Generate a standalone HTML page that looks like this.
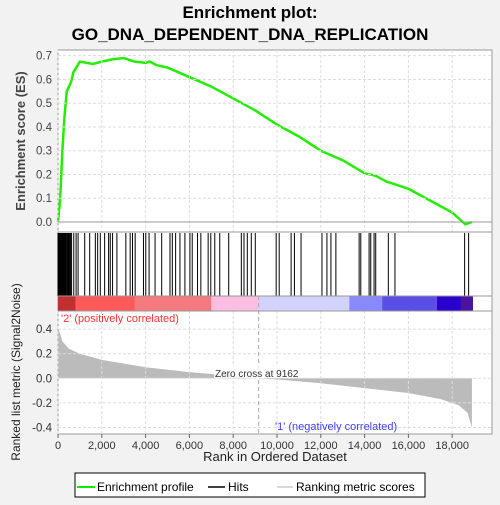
<!DOCTYPE html>
<html><head><meta charset="utf-8"><style>
body{margin:0;background:#f2f2f2;font-family:"Liberation Sans",sans-serif}
svg text{font-family:"Liberation Sans",sans-serif}
</style></head><body>
<svg id="c" width="500" height="500">
<rect x="0" y="0" width="500" height="500" fill="#f2f2f2"/>
<text x="250" y="18" text-anchor="middle" font-size="17" font-weight="bold">Enrichment plot:</text>
<text x="250" y="40" text-anchor="middle" font-size="17" font-weight="bold">GO_DNA_DEPENDENT_DNA_REPLICATION</text>
<rect x="58" y="50" width="434" height="384" fill="#fff" stroke="#999"/>
<g id="es"></g><g id="hits"></g><g id="cbar"></g><g id="metric"></g><g id="axes"></g>
<text transform="translate(25,141) rotate(-90)" text-anchor="middle" font-size="13" font-weight="bold" fill="#444">Enrichment score (ES)</text>
<text transform="translate(20,372) rotate(-90)" text-anchor="middle" font-size="12" fill="#222">Ranked list metric (Signal2Noise)</text>
<text x="275" y="461" text-anchor="middle" font-size="13" fill="#222">Rank in Ordered Dataset</text>
<text x="61" y="322" font-size="11" fill="#ff3030">'2' (positively correlated)</text>
<text x="275" y="430" font-size="11" fill="#4040ff">'1' (negatively correlated)</text>
<rect x="214" y="366" width="86" height="12" fill="#fff" opacity="0.8"/>
<text x="215" y="377" font-size="10" fill="#333">Zero cross at 9162</text>
<g>
<rect x="75" y="473" width="350" height="24" fill="#fff" stroke="#000"/>
<line x1="77" y1="487" x2="95" y2="487" stroke="#00ee00" stroke-width="2"/>
<text x="97" y="491" font-size="12">Enrichment profile</text>
<line x1="208" y1="487" x2="225" y2="487" stroke="#000" stroke-width="1.5"/>
<text x="228" y="491" font-size="12">Hits</text>
<line x1="277" y1="487" x2="293" y2="487" stroke="#ccc" stroke-width="1.5"/>
<text x="296" y="491" font-size="12">Ranking metric scores</text>
</g>
</svg>
<script>
const esRanks=[0,100,200,300,400,600,700,900,1000,1300,1600,2000,2500,3000,3500,4000,4200,4500,5000,5500,6000,7000,8000,9000,10000,11000,12000,13000,14000,14500,15000,16000,17000,18000,18600,18900];
const esValues=[0,0.1,0.3,0.45,0.55,0.59,0.63,0.66,0.675,0.67,0.665,0.675,0.685,0.69,0.675,0.67,0.675,0.66,0.65,0.63,0.61,0.57,0.52,0.47,0.41,0.36,0.3,0.26,0.205,0.195,0.17,0.14,0.09,0.04,-0.01,0.0];
const hitRanks=[0,30,60,90,120,150,180,210,240,270,300,330,360,400,430,462,500,540,568,620,720,826,917,1220,1447,1705,1811,1932,2129,2311,2386,2492,2689,3098,3295,3402,3523,3902,4008,4159,4432,4735,5114,5220,5371,5568,5795,6023,6129,6371,6523,6856,6977,7159,7386,7795,8371,8492,8644,8826,9008,9962,10100,10644,10795,11098,12053,12280,12462,12689,13750,13826,14205,14280,14432,14508,15083,15386,18568,18750];
const metricRanks=[0,200,500,1000,2000,4000,6000,8000,9162,10000,12000,14000,16000,17500,18300,18700,18900];
const metricValues=[0.42,0.3,0.24,0.2,0.15,0.09,0.05,0.02,0,-0.01,-0.04,-0.08,-0.12,-0.17,-0.22,-0.28,-0.4];
const xTicks=[0,2000,4000,6000,8000,10000,12000,14000,16000,18000];
const esTicks=[0,0.1,0.2,0.3,0.4,0.5,0.6,0.7];
const mTicks=[-0.4,-0.2,0,0.2,0.4];
const NS='http://www.w3.org/2000/svg';
const X=v=>58+v*0.0219;
const YE=v=>222-v*237.6;
const YM=v=>378.3-v*123;
function mk(t,a,p){const e=document.createElementNS(NS,t);for(const k in a)e.setAttribute(k,a[k]);p.appendChild(e);return e;}
const ax=document.getElementById('axes');
// grids
xTicks.forEach(t=>{
 mk('line',{x1:X(t),x2:X(t),y1:50,y2:232,stroke:'#ddd','stroke-dasharray':'3,2'},ax);
 mk('line',{x1:X(t),x2:X(t),y1:311,y2:434,stroke:'#ddd','stroke-dasharray':'3,2'},ax);
 mk('line',{x1:X(t),x2:X(t),y1:434,y2:438,stroke:'#666'},ax);
 const tx=mk('text',{x:X(t),y:449,'text-anchor':'middle','font-size':11,fill:'#333'},ax);tx.textContent=t.toLocaleString('en-US');
 
 
});
esTicks.forEach(t=>{
 mk('line',{x1:58,x2:492,y1:YE(t),y2:YE(t),stroke:'#ddd','stroke-dasharray':'3,2'},ax);
 const tx=mk('text',{x:52,y:YE(t)+4,'text-anchor':'end','font-size':11.5,fill:'#444'},ax);tx.textContent=t.toFixed(1);
 
 
});
mTicks.forEach(t=>{
 mk('line',{x1:58,x2:492,y1:YM(t),y2:YM(t),stroke:'#ddd','stroke-dasharray':'3,2'},ax);
 const tx=mk('text',{x:52,y:YM(t)+4,'text-anchor':'end','font-size':11.5,fill:'#333'},ax);tx.textContent=t.toFixed(1);
 
 
});
mk('line',{x1:58,x2:492,y1:YE(0),y2:YE(0),stroke:'#999'},ax);
mk('line',{x1:58,x2:492,y1:232,y2:232,stroke:'#999'},ax);
mk('line',{x1:58,x2:492,y1:296,y2:296,stroke:'#999'},ax);
mk('line',{x1:58,x2:492,y1:311,y2:311,stroke:'#999'},ax);
mk('line',{x1:X(9162),x2:X(9162),y1:296,y2:434,stroke:'#aaa','stroke-dasharray':'4,3'},ax);
// metric
const mg=document.getElementById('metric');
let d='M'+X(0)+','+YM(0);
metricRanks.forEach((r,i)=>d+=' L'+X(r)+','+YM(metricValues[i]));
d+=' L'+X(metricRanks[metricRanks.length-1])+','+YM(0)+' Z';
const mp=mk('path',{d:d,fill:'#bbb'},mg);


// color bar
const cb=document.getElementById('cbar');
const segs=[[0,800,'#c03030'],[800,7000,'#ff5a5a'],[3500,7000,'#f47a80'],[7000,9162,'#fbbde0'],[9162,13300,'#d2d2fa'],[13300,14800,'#8888ff'],[14800,17300,'#5a4ee6'],[17300,18400,'#2a00cc'],[18400,18950,'#4a149e']];
segs.forEach(s=>{const r=mk('rect',{x:X(s[0]),y:296,width:X(s[1])-X(s[0]),height:15,fill:s[2]},cb);
 
 });
// hits
const hg=document.getElementById('hits');
hitRanks.forEach(r=>{const l=mk('line',{x1:X(r),x2:X(r),y1:233,y2:296,stroke:'#000','stroke-width':1},hg);
 
 });
// es
const eg=document.getElementById('es');
const pts=esRanks.map((r,i)=>X(r)+','+YE(esValues[i])).join(' ');
const pl=mk('polyline',{points:pts,fill:'none',stroke:'#22ee00','stroke-width':2.5},eg);


</script>
</body></html>
